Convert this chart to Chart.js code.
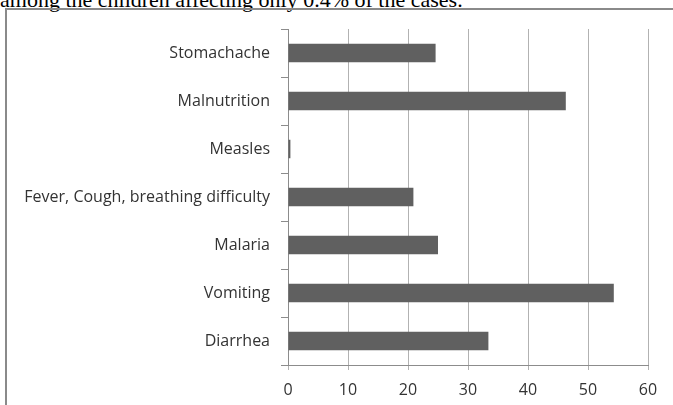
<!DOCTYPE html>
<html>
<head>
<meta charset="utf-8">
<script src="https://cdn.jsdelivr.net/npm/chart.js"></script>
<style>
    html, body { margin: 0; padding: 0; background: #fff; overflow: hidden; }
    #page { position: relative; width: 673px; height: 405px; overflow: hidden; }
    #caption {
        position: absolute; left: 0; top: -13px;
        font-family: "Liberation Serif", "DejaVu Serif", serif;
        font-size: 22px; color: #000; white-space: nowrap;
    }
    #frame {
        position: absolute; left: 5px; top: 8px; width: 700px; height: 420px;
        border: 2px solid #8a8a8a; box-sizing: border-box;
    }
    #chart { position: absolute; left: 0; top: 0; }
</style>
</head>
<body>
<div id="page">
    <div id="caption">among the children affecting only 0.4% of the cases.</div>
    <div id="frame"></div>
    <canvas id="chart" width="673" height="405"></canvas>
</div>
<script>
    // Data (top to bottom)
    const categories = ['Stomachache', 'Malnutrition', 'Measles', 'Fever, Cough, breathing difficulty', 'Malaria', 'Vomiting', 'Diarrhea'];
    const percentValues = [24.6, 46.3, 0.4, 20.9, 25.0, 54.3, 33.4];
    const xTicks = [0, 10, 20, 30, 40, 50, 60];

    const labelFont = { family: '"Open Sans", "Noto Sans", sans-serif', size: 16 };

    new Chart(document.getElementById('chart'), {
        type: 'bar',
        data: {
            labels: categories,
            datasets: [{
                data: percentValues,
                backgroundColor: '#606060',
                borderWidth: 0,
                categoryPercentage: 1,
                barPercentage: 0.385
            }]
        },
        options: {
            indexAxis: 'y',
            responsive: false,
            animation: false,
            layout: { padding: { top: 29, right: 25, left: 0, bottom: 0 } },
            scales: {
                x: {
                    min: 0, max: 60,
                    afterBuildTicks: (axis) => { axis.ticks = xTicks.map(v => ({ value: v })); },
                    afterFit: (axis) => { axis.height = 40; },
                    grid: { color: '#b2b2b2', tickLength: 5, lineWidth: 1 },
                    border: { color: '#8c8c8c', width: 1 },
                    ticks: { color: '#333', font: labelFont, padding: 11 }
                },
                y: {
                    afterFit: (axis) => { axis.width = 288; },
                    grid: { drawOnChartArea: false, drawTicks: true, tickLength: 7, color: '#8c8c8c', offset: true },
                    border: { color: '#8c8c8c', width: 1 },
                    ticks: { color: '#333', font: labelFont, padding: 11 }
                }
            },
            plugins: {
                legend: { display: false },
                tooltip: { enabled: false }
            }
        }
    });
</script>
</body>
</html>
